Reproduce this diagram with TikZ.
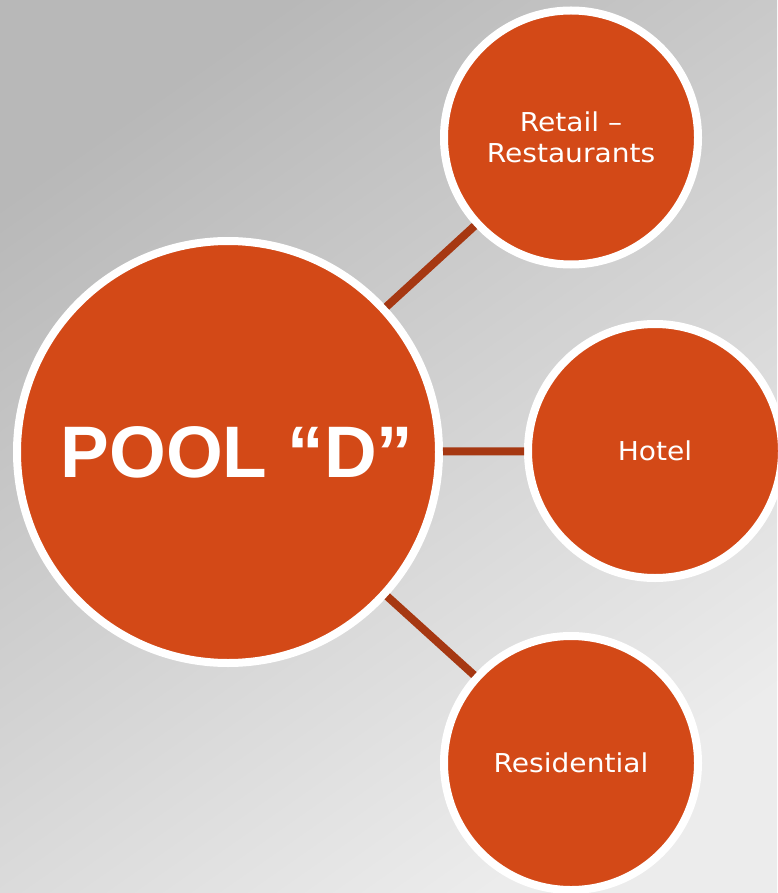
\documentclass[tikz,border=0pt]{standalone}
\usepackage{fontspec}
\setmainfont{Liberation Sans}
\newfontfamily\lbl[FakeStretch=1.08]{DejaVu Sans}
\newfontfamily\bigfont{Liberation Sans}
\definecolor{bgdark}{RGB}{184,184,184}
\definecolor{bglight}{RGB}{236,236,236}
\definecolor{poolorange}{RGB}{211,73,23}
\definecolor{linkred}{RGB}{166,56,18}
\tikzset{
  bubble/.style={circle, draw=white, line width=8pt, fill=poolorange, inner sep=0pt, text=white, align=center},
  bigbubble/.style={bubble, minimum size=422pt, font=\bigfont\bfseries\fontsize{73}{80}\selectfont},
  smallbubble/.style={bubble, minimum size=254pt, font=\lbl\fontsize{26}{31}\selectfont},
  link/.style={draw=linkred, line width=8pt}
}
\begin{document}
\begin{tikzpicture}[x=1pt,y=-1pt]
\useasboundingbox (0,0) rectangle (777,893);
\shade[shading=axis, left color=bgdark, right color=bglight, shading angle=35] (0,0) rectangle (777,893);
\node[bigbubble] (pool) at (228,452) {\hspace*{18pt}POOL “D”};
\node[smallbubble] (retail) at (571,137.5) {Retail –\\Restaurants};
\node[smallbubble] (hotel) at (655,451) {Hotel};
\node[smallbubble] (resid) at (571,763) {Residential};
\draw[link] (pool) -- (retail);
\draw[link] (pool) -- (hotel);
\draw[link] (pool) -- (resid);
\end{tikzpicture}
\end{document}
